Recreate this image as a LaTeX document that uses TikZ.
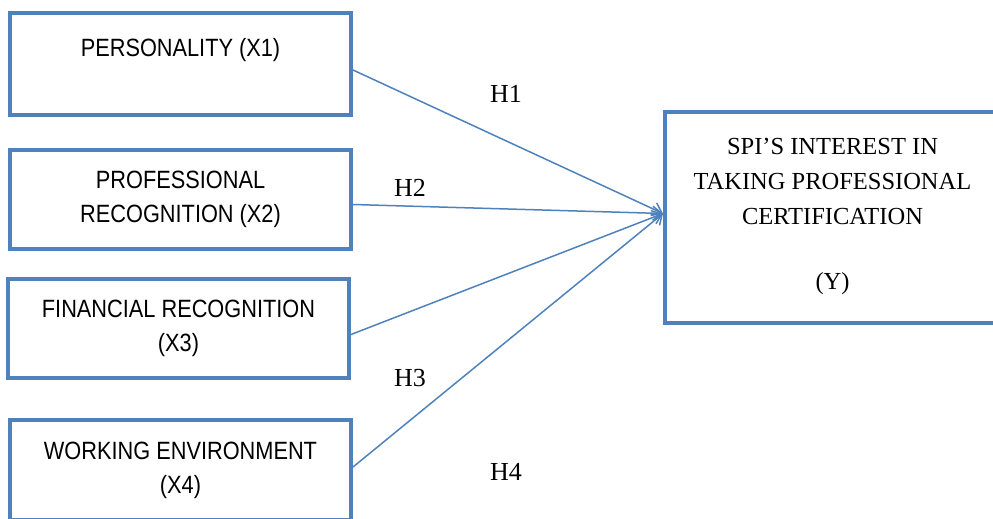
\documentclass[tikz,border=0pt]{standalone}
\usepackage{fontspec}
\setmainfont{Liberation Serif}
\newfontfamily\boxfont[FakeStretch=0.87]{Liberation Sans}
\usetikzlibrary{arrows.meta,positioning}
\definecolor{boxblue}{RGB}{79,129,189}
\tikzset{
    >={Straight Barb[length=9pt,width=14pt]},
    every picture/.style={line width=1.5pt},
    varbox/.style={draw=boxblue,line width=4pt,minimum width=341pt,inner sep=0pt,
        align=center,font=\boxfont\fontsize{25}{34}\selectfont},
    depbox/.style={draw=boxblue,line width=4pt,minimum width=335pt,minimum height=211pt,
        inner sep=0pt,align=center,font=\fontsize{24.5}{35}\selectfont},
    hyp/.style={font=\fontsize{26}{30}\selectfont,inner sep=0pt},
    path/.style={draw=boxblue,->}
}

\begin{document}
\begin{tikzpicture}[x=1pt,y=-1pt]
    \useasboundingbox (0,0) rectangle (993,519);
    \clip (0,0) rectangle (993,519);
    % independent variables
    \node[varbox,minimum height=102pt] (x1) at (180.5,64) {PERSONALITY (X1)\\\mbox{}};
    \node[varbox,minimum height=99pt] (x2) at (180.5,199.5) {PROFESSIONAL\\RECOGNITION (X2)};
    \node[varbox,minimum height=99pt] (x3) at (178.5,328.5) {FINANCIAL RECOGNITION\\(X3)};
    \node[varbox,minimum height=100pt] (x4) at (180.5,470) {WORKING ENVIRONMENT\\(X4)};
    % dependent variable
    \node[depbox] (y) at (832.5,217.5) {SPI'S INTEREST IN\\TAKING PROFESSIONAL\\CERTIFICATION\\[30pt](Y)\\[-27pt]\mbox{}};
    \coordinate (tip) at ([yshift=4pt]y.west);
    % hypotheses
    \draw[path] ([yshift=-6pt]x1.east) -- (tip);
    \draw[path] ([yshift=-5pt]x2.east) -- (tip);
    \draw[path] ([yshift=-6pt]x3.east) -- (tip);
    \draw[path] ([yshift=3pt]x4.east) -- (tip);
    \node[hyp] (h1) at (506,94) {H1};
    \node[hyp] (h2) at (410,188) {H2};
    \node[hyp] (h3) at (410,378) {H3};
    \node[hyp] (h4) at (506,472) {H4};
\end{tikzpicture}
\end{document}
